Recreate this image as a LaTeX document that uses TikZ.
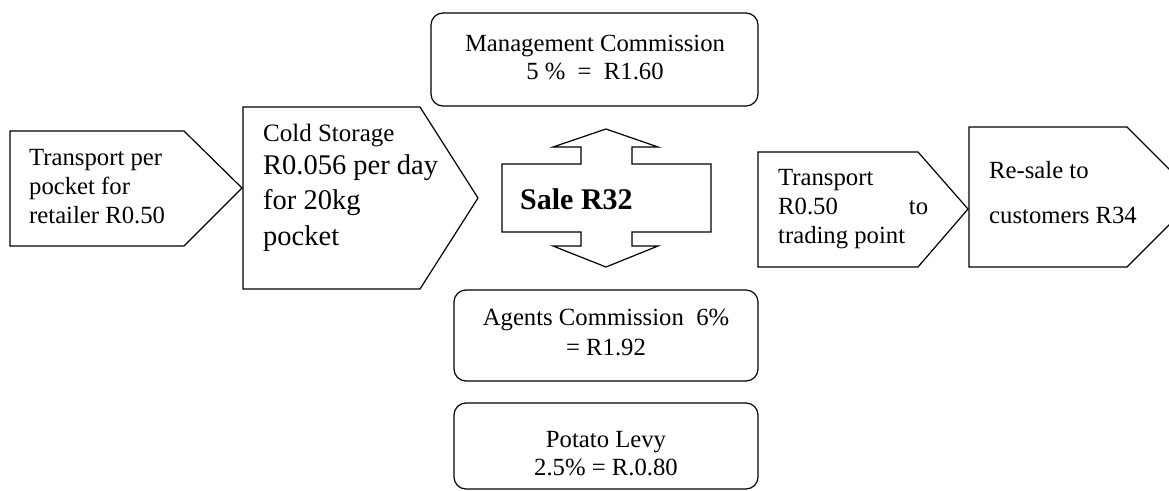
\documentclass[tikz,border=0pt]{standalone}
\usepackage{fontspec}
\setmainfont{Liberation Serif}
\begin{document}
\begin{tikzpicture}[x=1pt,y=-1pt,
  outline/.style={draw=black,line width=1.2pt,line join=miter},
  roundbox/.style={draw=black,line width=1.2pt,rounded corners=12pt},
  lefttext/.style={inner sep=0pt,anchor=base west},
  midtext/.style={inner sep=0pt,anchor=base},
  body/.style={font=\fontsize{24.7}{#1}\selectfont},
  body/.default=29]
\useasboundingbox (0,0) rectangle (1169,490);
\clip (0,0) rectangle (1169,490);

% chain of costs leading to the sale
\draw[outline] (10,131) -- (184,131) -- (242,188) -- (184,246) -- (10,246) -- cycle;
\draw[outline] (243,107) -- (420,107) -- (478,198) -- (420,289) -- (243,289) -- cycle;

% central double arrow
\draw[outline] (606,129) -- (658,147) -- (632,147) -- (632,164) -- (711,164)
  -- (711,232) -- (632,232) -- (632,246) -- (658,246) -- (606,267)
  -- (553,246) -- (581,246) -- (581,232) -- (502,232) -- (502,164)
  -- (581,164) -- (581,147) -- (553,147) -- cycle;

% deductions
\draw[roundbox] (431,13) rectangle (758,106);
\draw[roundbox] (454,290) rectangle (758,381);
\draw[roundbox] (454,403) rectangle (758,489);

% onward to the customer
\draw[outline] (758,152) -- (918,152) -- (968,209) -- (918,267) -- (758,267) -- cycle;
\draw[outline] (969,127) -- (1127,127) -- (1197,197) -- (1127,267) -- (969,267) -- cycle;

% labels
\node[lefttext,body=29] (transport) at (29,165)
  {\begin{tabular}[t]{@{}l@{}}Transport per\\pocket for\\retailer R0.50\end{tabular}};
\node[lefttext,font=\fontsize{25}{30}\selectfont] (cold) at (263,141) {Cold Storage};
\node[lefttext,font=\fontsize{28.5}{35.5}\selectfont] (coldcost) at (263,174)
  {\begin{tabular}[t]{@{}l@{}}R0.056 per day\\for 20kg\\pocket\end{tabular}};
\node[lefttext,font=\bfseries\fontsize{30}{36}\selectfont] (sale) at (520,209) {Sale R32};
\node[midtext,body=28] (mgmt) at (595,51)
  {\begin{tabular}[t]{@{}c@{}}Management Commission\\5~\%\ \ =\ \ R1.60\end{tabular}};
\node[midtext,body=30] (agents) at (606,325)
  {\begin{tabular}[t]{@{}c@{}}Agents Commission\ \ 6\%\\= R1.92\end{tabular}};
\node[midtext,body=28] (levy) at (606,447)
  {\begin{tabular}[t]{@{}c@{}}Potato Levy\\2.5\% = R.0.80\end{tabular}};
\node[lefttext,body=29] (trading) at (778,185)
  {\begin{tabular}[t]{@{}l@{}}Transport\\\hbox to 150pt{R0.50\hfill to}\\trading point\end{tabular}};
\node[lefttext,body=45] (resale) at (989,178)
  {\begin{tabular}[t]{@{}l@{}}Re-sale to\\customers R34\end{tabular}};
\end{tikzpicture}
\end{document}
